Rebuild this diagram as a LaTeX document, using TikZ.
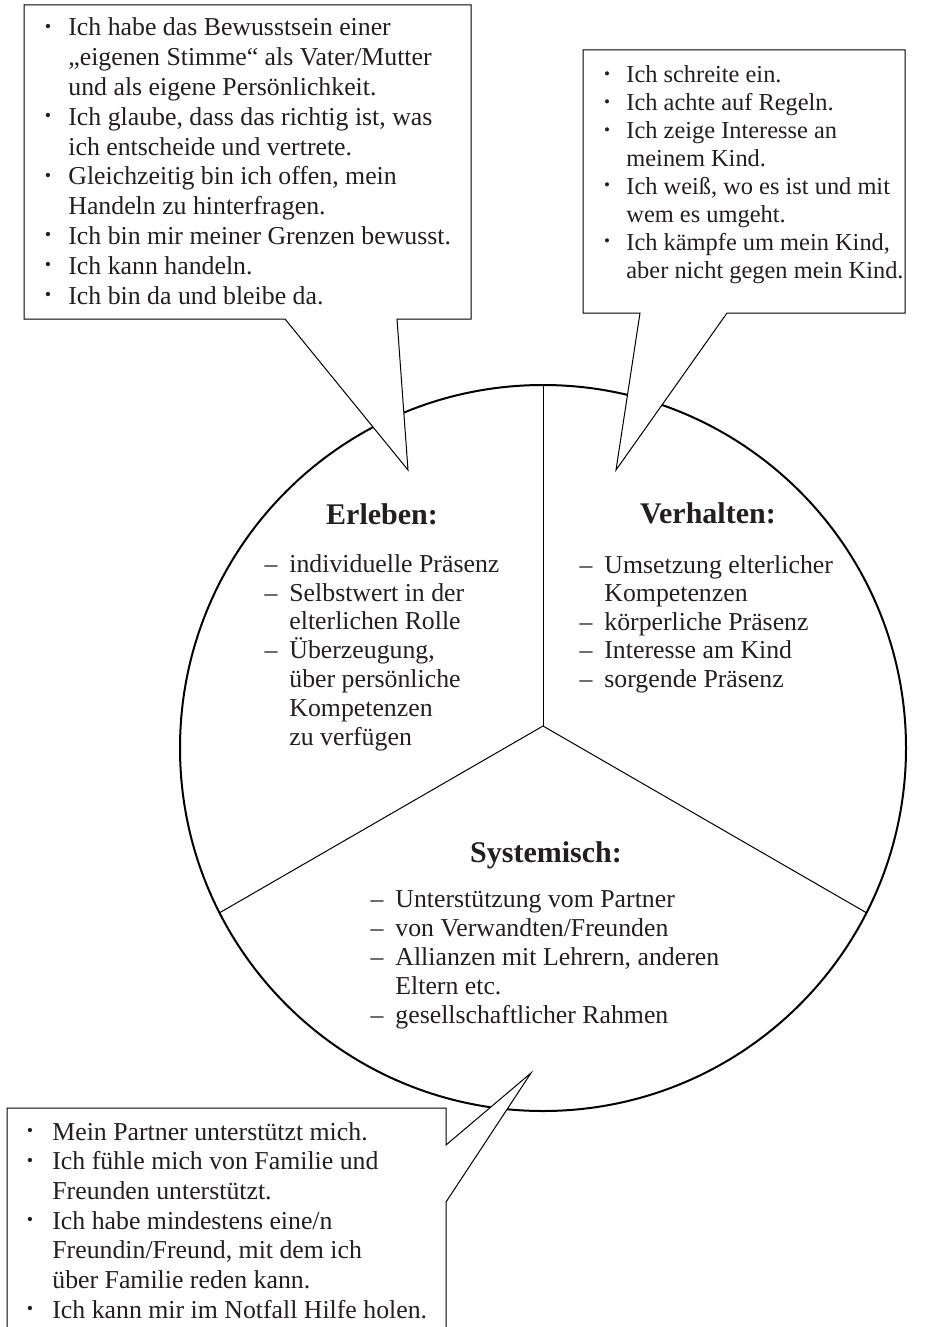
\documentclass[tikz,border=0pt]{standalone}
\usepackage{fontspec}
\setmainfont{Liberation Serif}
\usepackage{graphicx}

\definecolor{schrift}{RGB}{35,31,32}

\newcommand{\pkt}[1][8.6pt]{\llap{\raisebox{0.3ex}{\scalebox{0.7}{\textbullet}}\hspace{#1}}}
\newcommand{\strich}{\llap{\textendash\hspace{6pt}}}

\tikzset{
	blase/.style={draw, fill=white, line width=0.5pt, line join=miter},
	liste/.style={anchor=base west, align=left, inner sep=0pt, text=schrift, font=\fontsize{12.9}{14.9}\selectfont},
	titel/.style={anchor=base, inner sep=0pt, text=schrift, font=\fontsize{15}{18}\selectfont\bfseries},
}

\begin{document}
\begin{tikzpicture}[x=0.5pt, y=-0.5pt]
	
	\clip (0,0) rectangle (932,1327);
	
	% Kreis mit drei Feldern
	\draw[line width=1pt] (543,748) circle [radius=363];
	
	\coordinate (m) at (543,726);
	\coordinate (k1) at (543,385);
	\coordinate (k2) at (219.5,912.8);
	\coordinate (k3) at (866.5,912.8);
	
	\draw[line width=0.5pt] (m) -- (k1);
	\draw[line width=0.5pt] (m) -- (k2);
	\draw[line width=0.5pt] (m) -- (k3);
	
	% Sprechblasen (Anker jeweils an der letzten Zeile)
	\draw[blase] (24,5) -- (471,5) -- (471,319) -- (397,319) -- (408,470) -- (285,319) -- (24,319) -- cycle;
	
	\draw[blase] (583,50) -- (905,50) -- (905,313) -- (727,313) -- (616,470) -- (640,313) -- (583,313) -- cycle;
	
	\draw[blase] (7,1108) -- (446,1108) -- (446,1145) -- (531,1073) -- (446,1202) -- (446,1340) -- (7,1340) -- cycle;
	
	\node[liste] (b1) at (68,304) {\pkt Ich habe das Bewusstsein einer\\
		„eigenen Stimme“ als Vater/Mutter\\
		und als eigene Persönlichkeit.\\
		\pkt Ich glaube, dass das richtig ist, was\\
		ich entscheide und vertrete.\\
		\pkt Gleichzeitig bin ich offen, mein\\
		Handeln zu hinterfragen.\\
		\pkt Ich bin mir meiner Grenzen bewusst.\\
		\pkt Ich kann handeln.\\
		\pkt Ich bin da und bleibe da.};
	
	\node[liste, font=\fontsize{12.2}{13.95}\selectfont] (b2) at (626,278) {\pkt[8.2pt]Ich schreite ein.\\
		\pkt[8.2pt]Ich achte auf Regeln.\\
		\pkt[8.2pt]Ich zeige Interesse an\\
		meinem Kind.\\
		\pkt[8.2pt]Ich weiß, wo es ist und mit\\
		wem es umgeht.\\
		\pkt[8.2pt]Ich kämpfe um mein Kind,\\
		aber nicht gegen mein Kind.};
	
	\node[liste, font=\fontsize{12.9}{14.83}\selectfont] (b3) at (52,1318) {\pkt[9.6pt]Mein Partner unterstützt mich.\\
		\pkt[9.6pt]Ich fühle mich von Familie und\\
		Freunden unterstützt.\\
		\pkt[9.6pt]Ich habe mindestens eine/n\\
		Freundin/Freund, mit dem ich\\
		über Familie reden kann.\\
		\pkt[9.6pt]Ich kann mir im Notfall Hilfe holen.};
	
	% Felder
	\node[titel] (erleben) at (382,524) {Erleben:};
	\node[liste, font=\fontsize{12.9}{14.4}\selectfont] (l1) at (289,745) {\strich individuelle Präsenz\\
		\strich Selbstwert in der\\
		elterlichen Rolle\\
		\strich Überzeugung,\\
		über persönliche\\
		Kompetenzen\\
		zu verfügen};
	
	\node[titel] (verhalten) at (708,523) {Verhalten:};
	\node[liste, font=\fontsize{12.9}{14.25}\selectfont] (l2) at (604,687) {\strich Umsetzung elterlicher\\
		Kompetenzen\\
		\strich körperliche Präsenz\\
		\strich Interesse am Kind\\
		\strich sorgende Präsenz};
	
	\node[titel] (systemisch) at (546,862) {Systemisch:};
	\node[liste, font=\fontsize{12.9}{14.5}\selectfont] (l3) at (395,1023) {\strich Unterstützung vom Partner\\
		\strich von Verwandten/Freunden\\
		\strich Allianzen mit Lehrern, anderen\\
		Eltern etc.\\
		\strich gesellschaftlicher Rahmen};
	
\end{tikzpicture}
\end{document}
